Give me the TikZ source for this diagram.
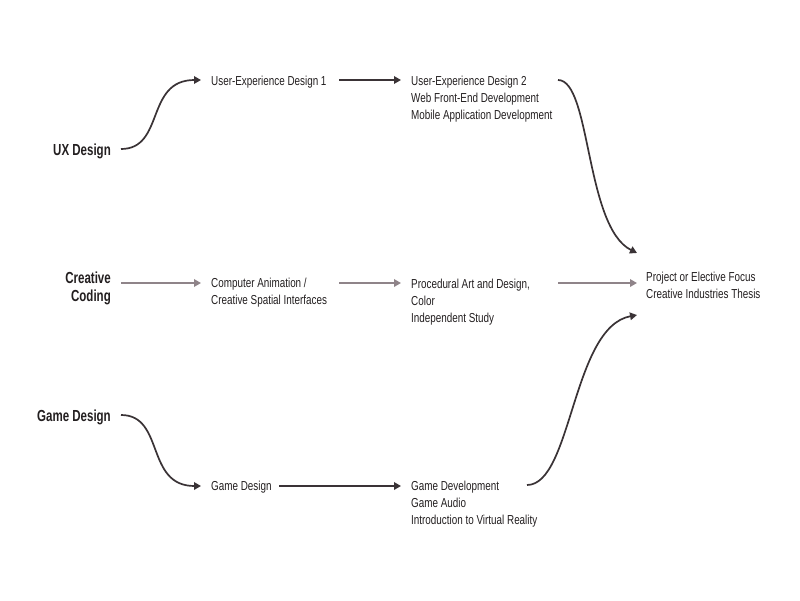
\documentclass[tikz,border=0pt]{standalone}
\usepackage{fontspec}
\setmainfont{Liberation Sans}[FakeStretch=0.76,BoldFeatures={FakeStretch=0.72}]
\usetikzlibrary{arrows.meta,calc}
\definecolor{ink}{HTML}{231F20}
\definecolor{darkarrow}{HTML}{3A3336}
\definecolor{greyarrow}{HTML}{8F8489}
\newcommand{\leftlines}[1]{\begin{tabular}[t]{@{}l@{}}#1\end{tabular}}
\newcommand{\rightlines}[1]{\begin{tabular}[t]{@{}r@{}}#1\end{tabular}}
\tikzset{
  course/.style={inner sep=0pt, text=ink, font=\fontsize{13}{17}\selectfont},
  track/.style={inner sep=0pt, text=ink, font=\fontsize{16}{18}\selectfont\bfseries},
  darkflow/.style={draw=darkarrow, line width=1.7pt, -{Triangle[length=7pt,width=7.5pt]}},
  greyflow/.style={draw=greyarrow, line width=1.7pt, -{Triangle[length=7pt,width=7.5pt]}},
}
\begin{document}
\begin{tikzpicture}[x=1pt,y=-1pt]
\useasboundingbox[fill=white] (0,0) rectangle (800,600);

% left track labels
\node[track, anchor=base east] (ux) at (111,155) {UX Design};
\node[track, anchor=base east] (cc) at (111,283) {\rightlines{Creative\\Coding}};
\node[track, anchor=base east] (gl) at (111,421) {Game Design};

% column 2
\node[course, anchor=base west] (ux1) at (211,85) {User-Experience Design 1};
\node[course, anchor=base west] (ca) at (211,287) {\leftlines{Computer Animation /\\Creative Spatial Interfaces}};
\node[course, anchor=base west] (gd) at (211,490) {Game Design};

% column 3
\node[course, anchor=base west] (ux2) at (411,85) {\leftlines{User-Experience Design 2\\Web Front-End Development\\Mobile Application Development}};
\node[course, anchor=base west] (pa) at (411,288) {\leftlines{Procedural Art and Design,\\Color\\Independent Study}};
\node[course, anchor=base west] (gd2) at (411,490) {\leftlines{Game Development\\Game Audio\\Introduction to Virtual Reality}};

% final
\node[course, anchor=base west] (pe) at (646,281) {\leftlines{Project or Elective Focus\\Creative Industries Thesis}};

% UX row
\draw[darkflow] ($(ux.base east)+(10,-6)$) .. controls +(44,0) and +(-56,0) .. ($(ux1.base west)+(-10,-5)$);
\draw[darkflow] ($(ux1.base west)+(128,-5)$) -- ($(ux2.base west)+(-10,-5)$);
\draw[darkflow] ($(ux2.base west)+(147,-5)$) .. controls +(33,0) and +(-52,-26) .. ($(pe.base west)+(-9,-28)$);

% Creative coding row
\draw[greyflow] ($(cc.base east)+(10,0)$) -- ($(ca.base west)+(-10,-4)$);
\draw[greyflow] ($(ca.base west)+(128,-4)$) -- ($(pa.base west)+(-10,-5)$);
\draw[greyflow] ($(pa.base west)+(147,-5)$) -- ($(pe.base west)+(-9,2)$);

% Game row
\draw[darkflow] ($(gl.base east)+(10,-6)$) .. controls +(44,0) and +(-56,0) .. ($(gd.base west)+(-10,-4)$);
\draw[darkflow] ($(gd.base west)+(68,-4)$) -- ($(gd2.base west)+(-10,-4)$);
\draw[darkflow] ($(gd2.base west)+(116,-5)$) .. controls +(45,0) and +(-65,12) .. ($(pe.base west)+(-9,34)$);
\end{tikzpicture}
\end{document}
